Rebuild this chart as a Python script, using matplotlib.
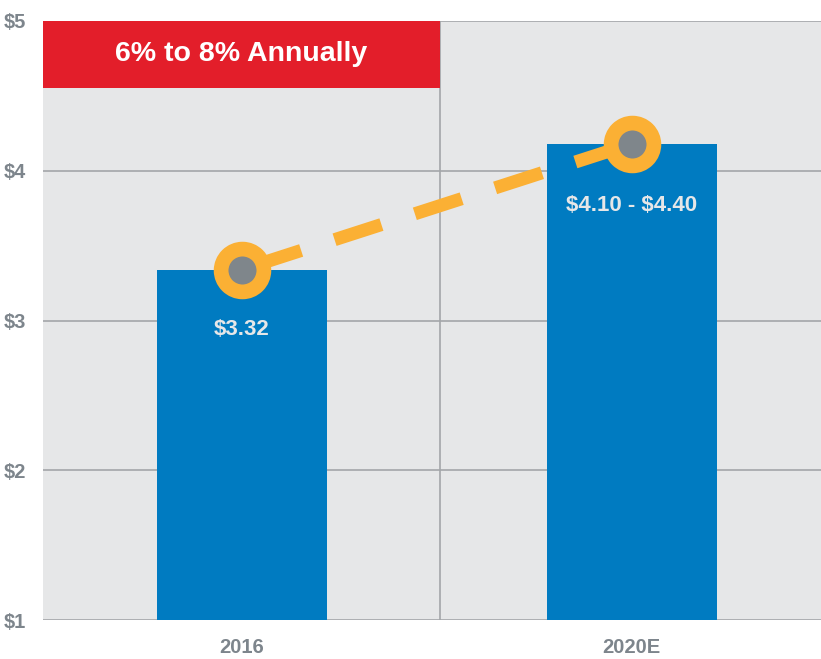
import matplotlib.pyplot as plt
from matplotlib.patches import Rectangle

# data
categories = ["2016", "2020E"]
values = [3.34, 4.18]
value_labels = ["$3.32", "$4.10 - $4.40"]
y_ticks = [1, 2, 3, 4, 5]
y_ticklabels = ["$1", "$2", "$3", "$4", "$5"]
banner_text = "6% to 8% Annually"

blue = "#007bc1"
orange = "#fbb034"
red = "#e31e2a"
dot_gray = "#7f868b"
bg = "#e6e7e8"
txt_gray = "#7d858c"
grid_gray = "#a3a6a9"
font = "Liberation Sans"

fig = plt.figure(figsize=(8.21, 6.59), dpi=100)
ax = fig.add_axes([43 / 821, 39 / 659, 778 / 821, 599 / 659])
ax.set_facecolor(bg)

x = list(range(len(categories)))
ax.bar(x, values, width=0.436, color=blue, zorder=2)

# dashed trend line + ring markers
ax.plot(x, values, color=orange, lw=9.4, linestyle=(5.46, (3.77, 2.69)),
        dash_capstyle="butt", zorder=3)
ax.plot(x, values, "o", ms=30.8, mew=10.6, mfc=dot_gray, mec=orange, zorder=4)

# value labels inside the bars
label_y = [2.937, 3.771]
for xi, yi, s in zip(x, label_y, value_labels):
    ax.text(xi, yi, s, ha="center", va="center", color="#e6e7e8",
            fontsize=16, fontweight="bold", family=font, zorder=5,
            parse_math=False)

# red banner
ax.add_patch(Rectangle((-0.51, 4.553), 1.018, 0.447, color=red, zorder=3, lw=0))
ax.text(-0.001, 4.777, banner_text, ha="center", va="center", color="white",
        fontsize=20.5, fontweight="bold", family=font, zorder=5)

ax.axvline(0.508, color=grid_gray, lw=1.2, zorder=1)

ax.set_xlim(-0.51, 1.485)
ax.set_ylim(1, 5)
ax.set_yticks(y_ticks)
ax.set_yticklabels(y_ticklabels)
ax.set_xticks(x)
ax.set_xticklabels(categories)
ax.yaxis.grid(True, color=grid_gray, lw=1.2, zorder=1)
ax.set_axisbelow(True)
ax.tick_params(length=0)
ax.tick_params(axis="y", pad=28)
ax.tick_params(axis="x", pad=13)
for lab in ax.get_yticklabels():
    lab.set_horizontalalignment("left")
for lab in ax.get_yticklabels() + ax.get_xticklabels():
    lab.set_color(txt_gray)
    lab.set_fontweight("bold")
    lab.set_fontsize(14.5)
    lab.set_family(font)
for sp in ax.spines.values():
    sp.set_visible(False)

fig.savefig("out.png", dpi=100)
